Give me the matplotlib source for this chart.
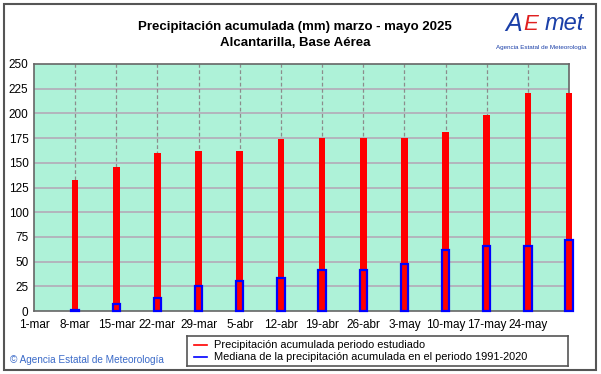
import matplotlib
matplotlib.use("Agg")
import matplotlib.pyplot as plt
import numpy as np
from matplotlib.patches import Rectangle

# Datos
fechas = ["1-mar", "8-mar", "15-mar", "22-mar", "29-mar", "5-abr", "12-abr",
          "19-abr", "26-abr", "3-may", "10-may", "17-may", "24-may"]
acumulada = [132.5, 145.5, 160, 162, 162, 174, 175, 175, 175.5, 181, 198, 220.5, 220.5]
mediana = [1, 7.5, 13, 25, 30, 33, 41, 42, 48, 62, 65.5, 65.5, 72]

plt.rcParams['font.family'] = ['Liberation Sans', 'DejaVu Sans']

fig = plt.figure(figsize=(6.01, 3.74), dpi=100)
W, H = 601, 374
ax = fig.add_axes([34 / W, 1 - 311 / H, (569 - 34) / W, (311 - 64) / H])
ax.set_facecolor("#aef2d8")

x = np.arange(1, len(acumulada) + 1)
rojas = ax.bar(x, acumulada, width=0.16, color="red", zorder=3)
azules = ax.bar(x, mediana, width=0.18, facecolor="none", edgecolor="blue", linewidth=1.6, zorder=4)
for b in list(rojas) + list(azules):
    b.set_clip_on(False)

ax.set_xlim(0, 13)
ax.set_ylim(0, 250)
ax.set_yticks(np.arange(0, 251, 25))
ax.set_xticks(np.arange(len(fechas)))
ax.set_xticklabels(fechas)
ax.tick_params(length=0, labelsize=8.5, pad=6)
ax.tick_params(axis="y", pad=4)

for y in np.arange(25, 250, 25):
    ax.axhline(y, color="#b4aab8", linewidth=1.2, zorder=1)
for xv in range(1, 13):
    ax.axvline(xv, color="#8c8c8c", linewidth=0.9, linestyle=(0, (3, 2)), zorder=1)
for s in ax.spines.values():
    s.set_color("#666666")
    s.set_linewidth(1.2)

fig.text(295 / W, 1 - 27 / H, "Precipitación acumulada (mm) marzo - mayo 2025",
         ha="center", va="center", fontsize=9.5, fontweight="bold")
fig.text(295 / W, 1 - 43 / H, "Alcantarilla, Base Aérea",
         ha="center", va="center", fontsize=9.5, fontweight="bold")

# logo aproximado
fig.text(514 / W, 1 - 24 / H, "A", ha="center", va="center", fontsize=18,
         color="#1a3fa8", style="italic")
fig.text(531 / W, 1 - 25 / H, "E", ha="center", va="center", fontsize=16,
         color="#e02020", style="italic")
fig.text(564 / W, 1 - 24 / H, "met", ha="center", va="center", fontsize=17,
         color="#1a3fa8", style="italic")
fig.text(541 / W, 1 - 48 / H, "Agencia Estatal de Meteorología", ha="center",
         va="center", fontsize=4.5, color="#1a3fa8")

fig.text(10 / W, 1 - 360 / H, "© Agencia Estatal de Meteorología", ha="left",
         va="center", fontsize=7.2, color="#3a6ac8")

# leyenda
leg_ax = fig.add_axes([187 / W, 1 - 366 / H, (568 - 187) / W, (366 - 336) / H])
leg_ax.set_xlim(0, 381)
leg_ax.set_ylim(30, 0)
leg_ax.set_xticks([])
leg_ax.set_yticks([])
for s in leg_ax.spines.values():
    s.set_color("#555555")
    s.set_linewidth(1.2)
leg_ax.plot([7, 20], [9, 9], color="red", linewidth=1.2)
leg_ax.plot([7, 20], [21, 21], color="blue", linewidth=1.2)
leg_ax.text(27, 9, "Precipitación acumulada periodo estudiado", va="center", fontsize=7.9)
leg_ax.text(27, 21, "Mediana de la precipitación acumulada en el periodo 1991-2020",
            va="center", fontsize=7.9)

fig.patches.append(Rectangle((4 / W, 4 / H), 592 / W, 366 / H, transform=fig.transFigure,
                             fill=False, edgecolor="#555555", linewidth=1.5))

fig.savefig("out.png", dpi=100)
